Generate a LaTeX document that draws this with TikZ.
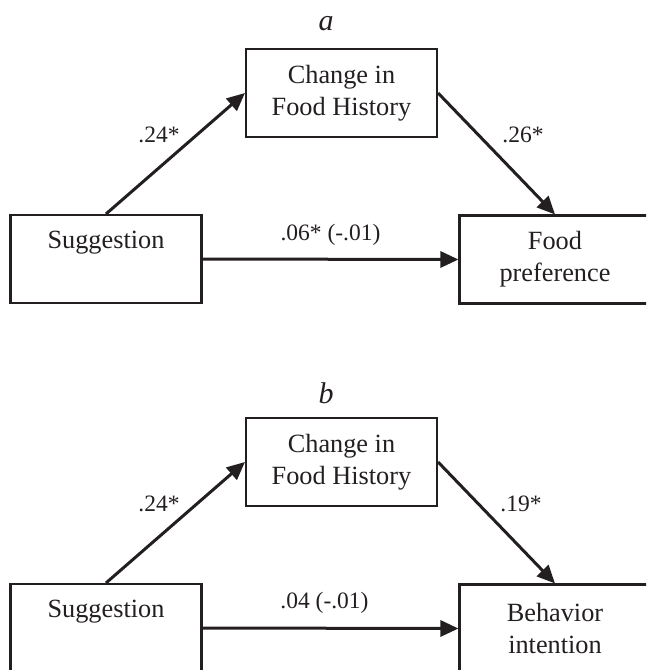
\documentclass[tikz,border=0pt]{standalone}
\usepackage{fontspec}
\setmainfont{Liberation Serif}
\usetikzlibrary{arrows.meta}
\definecolor{ink}{HTML}{231F20}
\begin{document}
\begin{tikzpicture}[x=1pt,y=-1pt,
  box/.style={draw=ink, line width=2.1pt, minimum width=191pt, minimum height=88pt,
    inner sep=0pt, align=center, font=\fontsize{26.3}{32}\selectfont, text=ink},
  onebox/.style={box, text height=18pt, text depth=38.4pt},
  conn/.style={draw=ink, line width=3pt, -{Triangle[length=18pt,width=16pt]}},
  coef/.style={font=\fontsize{23.5}{28}\selectfont, text=ink, inner sep=0pt},
  panel/.style={font=\fontsize{30}{34}\selectfont\itshape, text=ink, inner sep=0pt}]
\clip (0,0) rectangle (646,670);
% panel a
\node[panel] (la) at (326,24) {a};
\node[box] (chA) at (341.5,93) {Change in\\Food History};
\node[onebox] (sugA) at (106,259) {Suggestion};
\node[box] (foodA) at (555,259.5) {Food\\preference};
\draw[conn] (sugA.north) -- (chA.west);
\draw[conn] (chA.east) -- (foodA.north);
\draw[conn] (sugA.east) -- (foodA.west);
\node[coef] (ca1) at (159,135) {.24*};
\node[coef] (ca2) at (523,135) {.26*};
\node[coef] (ca3) at (330.5,234.5) {.06* (-.01)};
% panel b
\node[panel] (lb) at (326,393) {b};
\node[box] (chB) at (341.5,462) {Change in\\Food History};
\node[onebox] (sugB) at (106,628) {Suggestion};
\node[box] (behB) at (555,628.5) {Behavior\\intention};
\draw[conn] (sugB.north) -- (chB.west);
\draw[conn] (chB.east) -- (behB.north);
\draw[conn] (sugB.east) -- (behB.west);
\node[coef] (cb1) at (159,504) {.24*};
\node[coef] (cb2) at (521,504) {.19*};
\node[coef] (cb3) at (324.5,603) {.04 (-.01)};
\end{tikzpicture}
\end{document}
